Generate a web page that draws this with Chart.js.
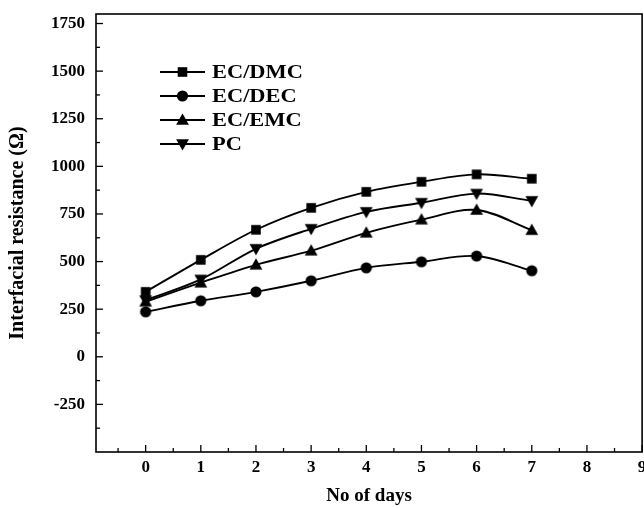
<!DOCTYPE html>
<html>
<head>
<meta charset="utf-8">
<script src="https://cdn.jsdelivr.net/npm/chart.js@4"></script>
<style>
  html, body { margin: 0; padding: 0; background: #fff; overflow: hidden; }
  #wrap { width: 651px; height: 508px; }
</style>
</head>
<body>
<div id="wrap"><canvas id="grafica"></canvas></div>
<script>
// dias y valores
const dias = [0, 1, 2, 3, 4, 5, 6, 7];
const ecDmc = [341, 509, 667, 782, 866, 919, 958, 935];
const ecDec = [236, 294, 341, 399, 467, 499, 529, 452];
const ecEmc = [289, 389, 483, 557, 651, 720, 771, 665];
const pc = [297, 406, 567, 672, 761, 809, 857, 819];
const nombres = ["EC/DMC", "EC/DEC", "EC/EMC", "PC"];
const simbolos = ["rect", "circle", "triangle", "triangleDown"];
const yEtiquetas = [-250, 0, 250, 500, 750, 1000, 1250, 1500, 1750];
const xEtiquetas = [0, 1, 2, 3, 4, 5, 6, 7, 8, 9];

Chart.defaults.font.family = "'Liberation Serif', 'Times New Roman', serif";
Chart.defaults.font.weight = "bold";
Chart.defaults.color = "#000";

// tamanos en px (medio lado / radio)
const tamano = { rect: 4.8, circle: 5.6, triangle: 6.4, triangleDown: 6.4 };

function dibujarSimbolo(ctx, tipo, x, y) {
  const r = tamano[tipo];
  ctx.beginPath();
  if (tipo === "rect") {
    ctx.rect(x - r, y - r, 2 * r, 2 * r);
  } else if (tipo === "circle") {
    ctx.arc(x, y, r, 0, Math.PI * 2);
  } else if (tipo === "triangle") {
    ctx.moveTo(x, y - r);
    ctx.lineTo(x + r, y + r * 0.75);
    ctx.lineTo(x - r, y + r * 0.75);
    ctx.closePath();
  } else {
    ctx.moveTo(x, y + r);
    ctx.lineTo(x + r, y - r * 0.75);
    ctx.lineTo(x - r, y - r * 0.75);
    ctx.closePath();
  }
  ctx.fill();
}

// cada simbolo como imagen pequena para usarlo como pointStyle
function imagenSimbolo(tipo) {
  const c = document.createElement("canvas");
  const s = 16;
  c.width = s; c.height = s;
  const g = c.getContext("2d");
  g.fillStyle = "#000";
  dibujarSimbolo(g, tipo, s / 2, s / 2);
  return c;
}

const series = [ecDmc, ecDec, ecEmc, pc];
const datasets = series.map((vals, i) => ({
  label: nombres[i],
  data: dias.map((d, k) => ({ x: d, y: vals[k] })),
  borderColor: "#000",
  backgroundColor: "#000",
  borderWidth: 1.9,
  pointStyle: imagenSimbolo(simbolos[i]),
  pointRadius: 7,
  tension: 0.33,
}));

const marco = {
  id: "marco",
  afterDraw(chart) {
    const ctx = chart.ctx;
    const a = chart.chartArea;
    const xs = chart.scales.x;
    const ys = chart.scales.y;
    ctx.save();
    ctx.strokeStyle = "#000";
    ctx.lineWidth = 1.6;
    ctx.strokeRect(a.left, a.top, a.right - a.left, a.bottom - a.top);
    ctx.lineWidth = 1.3;
    for (let v = -0.5; v <= 9; v += 0.5) {
      const px = xs.getPixelForValue(v);
      const largo = Number.isInteger(v) ? 7 : 4;
      ctx.beginPath();
      ctx.moveTo(px, a.bottom);
      ctx.lineTo(px, a.bottom - largo);
      ctx.stroke();
    }
    for (let v = -375; v <= 1750; v += 125) {
      const py = ys.getPixelForValue(v);
      const largo = v % 250 === 0 ? 7 : 4;
      ctx.beginPath();
      ctx.moveTo(a.left, py);
      ctx.lineTo(a.left + largo, py);
      ctx.stroke();
    }
    // etiquetas del eje x (la ultima queda cortada por el borde, como en el original)
    ctx.fillStyle = "#000";
    ctx.font = "bold 17px 'Liberation Serif', serif";
    ctx.textAlign = "center";
    ctx.textBaseline = "middle";
    xEtiquetas.forEach((v) => {
      ctx.fillText(String(v), xs.getPixelForValue(v), a.bottom + 16);
    });
    // leyenda
    ctx.textAlign = "left";
    ctx.font = "bold 19px 'Liberation Serif', serif";
    nombres.forEach((n, i) => {
      const y = 72 + i * 24;
      ctx.lineWidth = 1.9;
      ctx.beginPath();
      ctx.moveTo(160, y);
      ctx.lineTo(205, y);
      ctx.stroke();
      dibujarSimbolo(ctx, simbolos[i], 182.5, y);
      ctx.save();
      ctx.translate(212, y + 1);
      ctx.scale(1.18, 1);
      ctx.fillText(n, 0, 0);
      ctx.restore();
    });
    ctx.restore();
  },
};

new Chart(document.getElementById("grafica"), {
  type: "line",
  data: { datasets },
  plugins: [marco],
  options: {
    responsive: true,
    maintainAspectRatio: false,
    animation: false,
    layout: { padding: { top: 14, right: 3, left: 0, bottom: 0 } },
    plugins: { legend: { display: false }, tooltip: { enabled: false } },
    scales: {
      x: {
        type: "linear",
        min: -0.9,
        max: 9,
        grid: { display: false, drawTicks: false },
        border: { display: false },
        afterBuildTicks: (s) => { s.ticks = xEtiquetas.map((v) => ({ value: v })); },
        afterFit: (s) => { s.height = 56; },
        ticks: { display: false },
        title: { display: true, text: "No of days", font: { size: 19, weight: "bold" }, padding: { top: 0, bottom: 1 } },
      },
      y: {
        min: -500,
        max: 1800,
        grid: { display: false, drawTicks: false },
        border: { display: false },
        afterBuildTicks: (s) => { s.ticks = yEtiquetas.map((v) => ({ value: v })); },
        afterFit: (s) => { s.width = 96; s.paddingTop = 0; s.paddingBottom = 0; },
        ticks: { font: { size: 17, weight: "bold" }, padding: 11, callback: (v) => String(v) },
        title: { display: true, text: "Interfacial resistance (Ω)", font: { size: 20, weight: "bold" }, padding: { top: 6, bottom: 2 } },
      },
    },
  },
});
</script>
</body>
</html>
